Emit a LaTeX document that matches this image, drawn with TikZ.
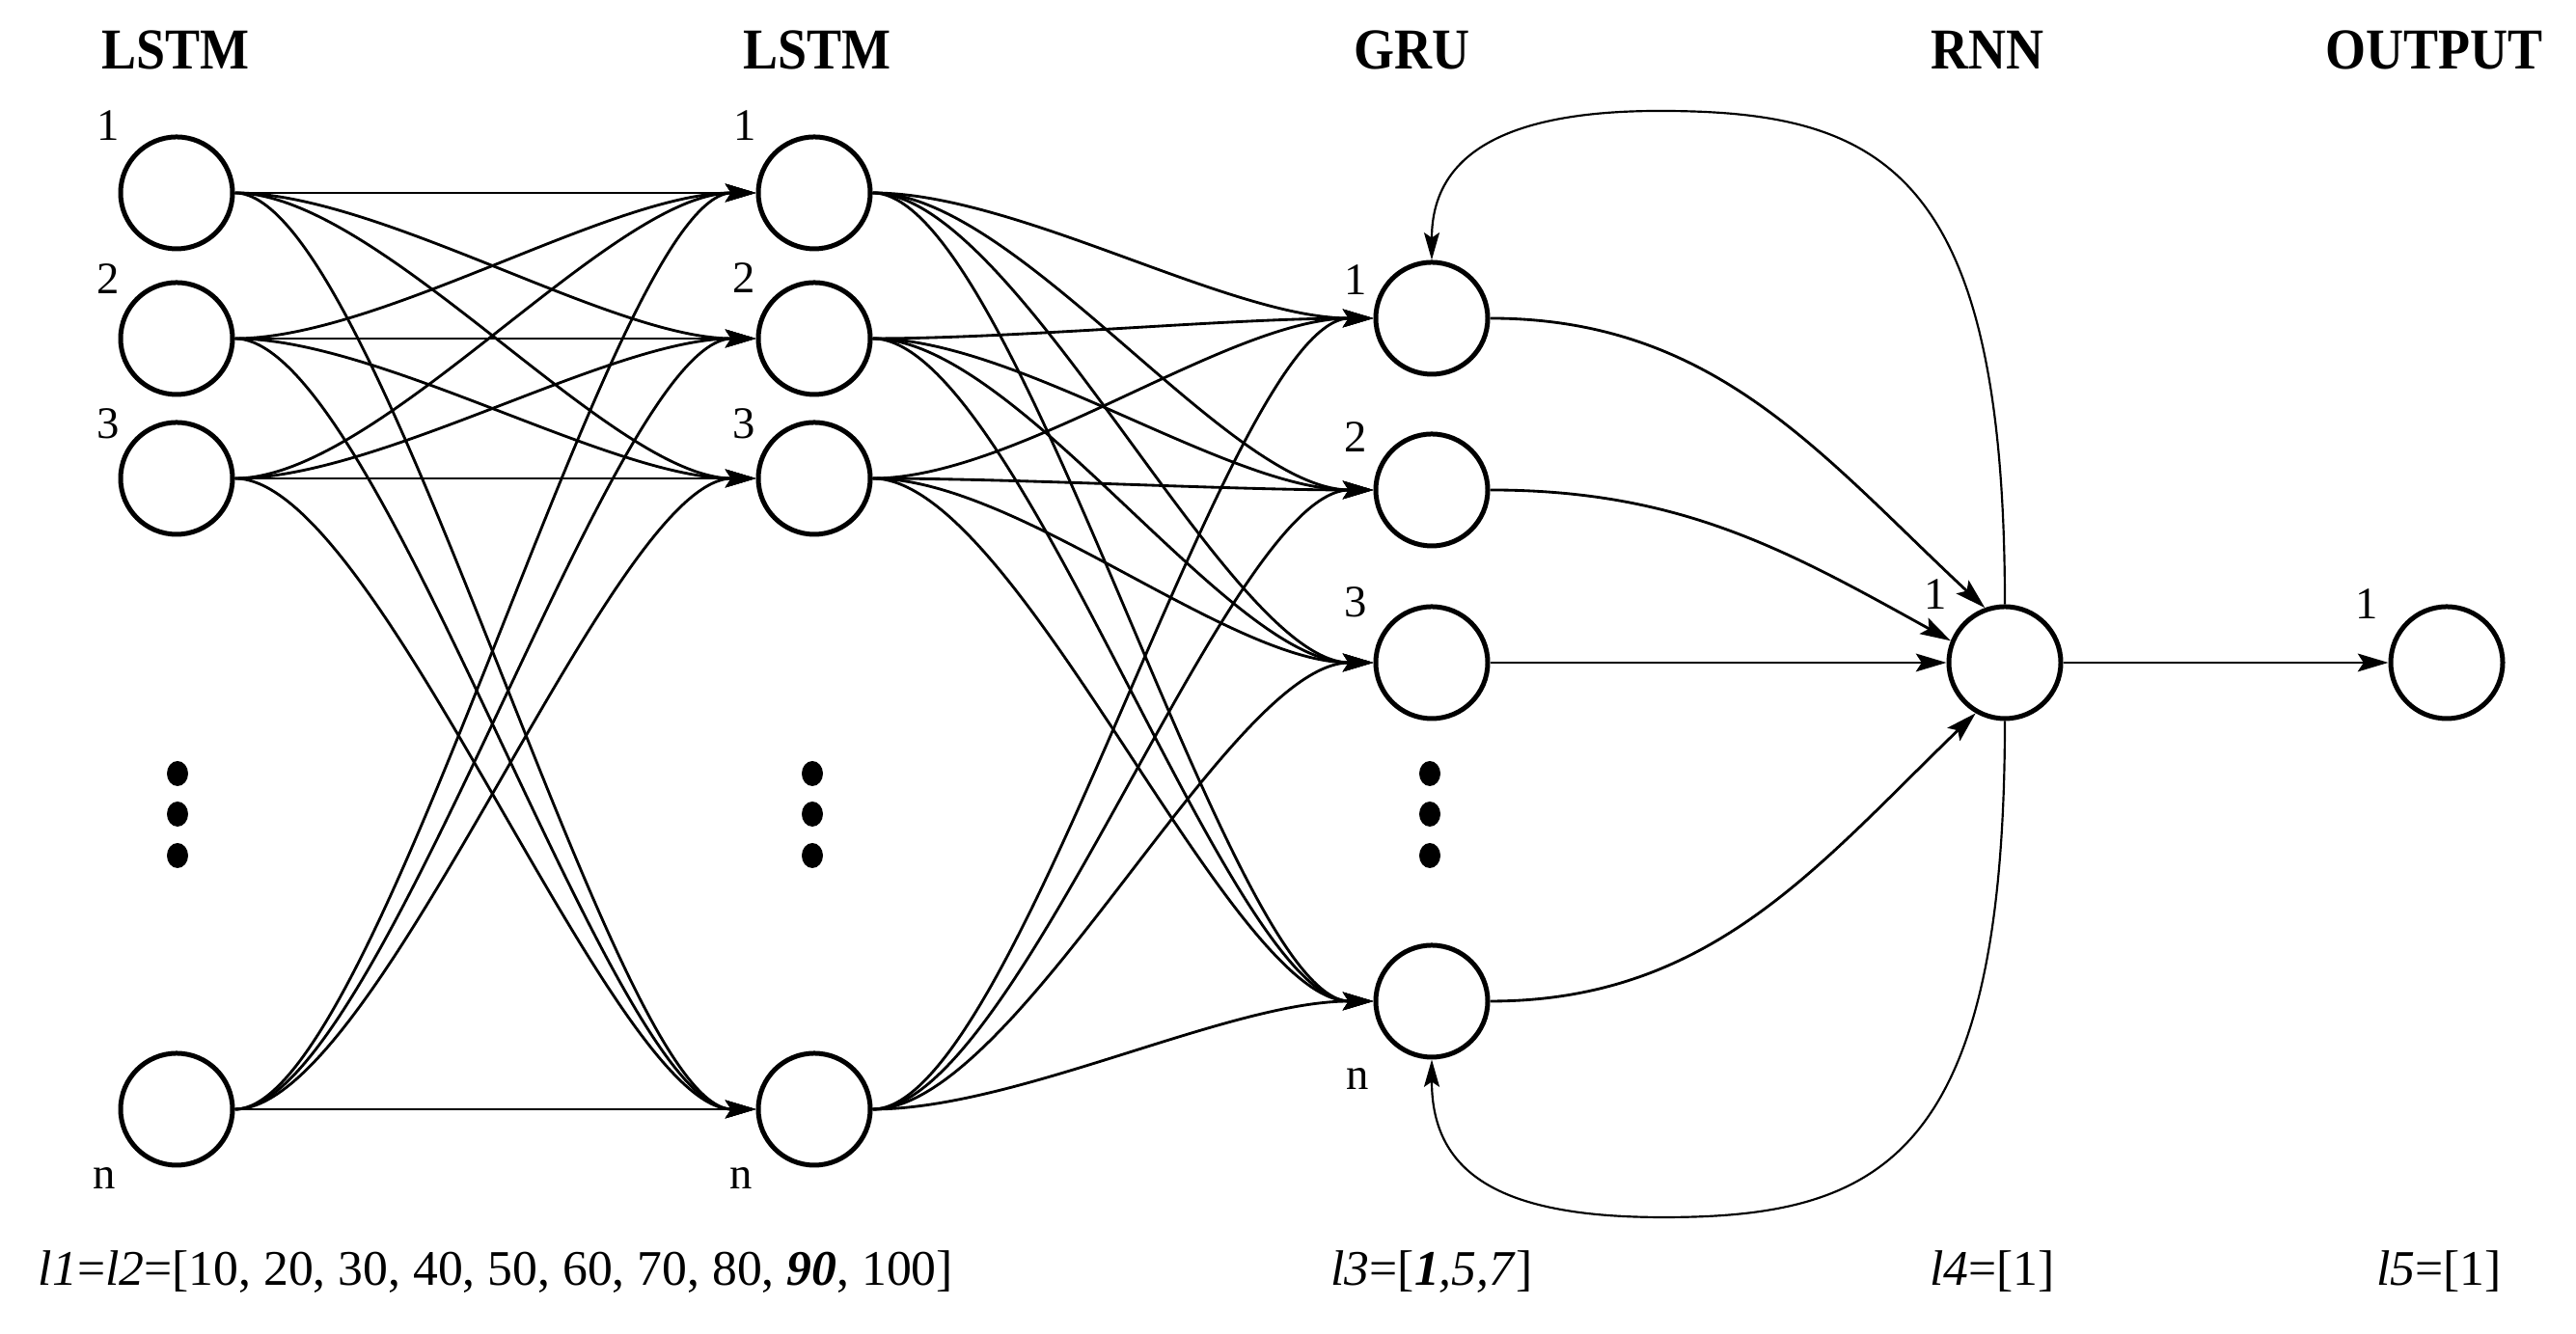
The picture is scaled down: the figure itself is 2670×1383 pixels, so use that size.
\documentclass[tikz,border=0pt]{standalone}
\usepackage{fontspec}
\setmainfont{Liberation Serif}
\newfontfamily\hdfont[FakeStretch=0.9]{Liberation Serif}
\usetikzlibrary{arrows.meta}
\begin{document}
\begin{tikzpicture}[x=0.3pt,y=0.3pt,
  neuron/.style={circle,draw,line width=1.5pt,minimum size=34.8pt,inner sep=0pt},
  conn/.style={line width=0.85pt,-{Stealth[length=9.5pt,width=5.6pt,inset=1.8pt]}},
  loopc/.style={line width=0.65pt,-{Stealth[length=8.5pt,width=4.8pt,inset=1.6pt]}},
  hdr/.style={font=\hdfont\bfseries\fontsize{18}{20}\selectfont,anchor=base,inner sep=0pt},
  lbl/.style={font=\fontsize{14}{16}\selectfont,inner sep=0pt},
  captext/.style={font=\fontsize{15.5}{18}\selectfont,anchor=base,inner sep=0pt}]
\fill[white] (0,0) rectangle (2670,1383);
\useasboundingbox (0,0) rectangle (2670,1383);

% headers
\node[hdr] (h1) at (182,1311) {LSTM};
\node[hdr] (h2) at (847,1311) {LSTM};
\node[hdr] (h3) at (1463,1311) {GRU};
\node[hdr] (h4) at (2060,1311) {RNN};
\node[hdr] (h5) at (2523,1311) {OUTPUT};

% neurons
\node[neuron] (a1) at (183,1183) {};
\node[neuron] (a2) at (183,1032) {};
\node[neuron] (a3) at (183,887) {};
\node[neuron] (an) at (183,233) {};
\node[neuron] (b1) at (844,1183) {};
\node[neuron] (b2) at (844,1032) {};
\node[neuron] (b3) at (844,887) {};
\node[neuron] (bn) at (844,233) {};
\node[neuron] (g1) at (1484,1053) {};
\node[neuron] (g2) at (1484,875) {};
\node[neuron] (g3) at (1484,696) {};
\node[neuron] (gn) at (1484,345) {};
\node[neuron] (r) at (2078,696) {};
\node[neuron] (o) at (2536,696) {};

% dots
\foreach \x in {184,842,1482}{
  \foreach \y in {581,539,496}{
    \fill (\x,\y) ellipse [x radius=11,y radius=13];
  }
}

% labels
\node[lbl] (la1) at (112,1253) {1};
\node[lbl] (la2) at (112,1094) {2};
\node[lbl] (la3) at (112,944) {3};
\node[lbl] (lan) at (108,161) {n};
\node[lbl] (lb1) at (772,1253) {1};
\node[lbl] (lb2) at (771,1095) {2};
\node[lbl] (lb3) at (771,944) {3};
\node[lbl] (lbn) at (768,161) {n};
\node[lbl] (lg1) at (1405,1093) {1};
\node[lbl] (lg2) at (1405,930) {2};
\node[lbl] (lg3) at (1405,759) {3};
\node[lbl] (lgn) at (1407,264) {n};
\node[lbl] (lr) at (2006,767) {1};
\node[lbl] (lo) at (2453,757) {1};

% LSTM -> LSTM
\foreach \s in {a1,a2,a3,an}{
  \foreach \t in {b1,b2,b3,bn}{
    \draw[conn] (\s.east) .. controls +(150,0) and +(-150,0) .. (\t.west);
  }
}
% LSTM -> GRU
\foreach \s in {b1,b2,b3,bn}{
  \foreach \t in {g1,g2,g3,gn}{
    \draw[conn] (\s.east) .. controls +(150,0) and +(-150,0) .. (\t.west);
  }
}
% GRU -> RNN
\draw[conn] (g1.east) to[out=0,in=137] (r.110);
\draw[conn] (g2.east) to[out=0,in=151] (r.158);
\draw[conn] (g3.east) -- (r.west);
\draw[conn] (gn.east) to[out=0,in=224] (r.240);
% RNN -> OUTPUT
\draw[conn] (r.east) -- (o.west);

% recurrent loops
\draw[loopc] (r.north) .. controls (2078,1208) and (1950,1268) .. (1720,1268)
  .. controls (1560,1268) and (1484,1223) .. (g1.north);
\draw[loopc] (r.south) .. controls (2078,183) and (1950,121) .. (1724,121)
  .. controls (1560,121) and (1484,163) .. (gn.south);

% captions
\node[captext] (c1) at (514,50) {\textit{l1}=\textit{l2}=[10, 20, 30, 40, 50, 60, 70, 80, \textbf{\textit{90}}, 100]};
\node[captext] (c3) at (1484,50) {\textit{l3}=[\textbf{\textit{1}}\textit{,5,7}]};
\node[captext] (c4) at (2065,50) {\textit{l4}=[1]};
\node[captext] (c5) at (2528,50) {\textit{l5}=[1]};
\end{tikzpicture}
\end{document}
